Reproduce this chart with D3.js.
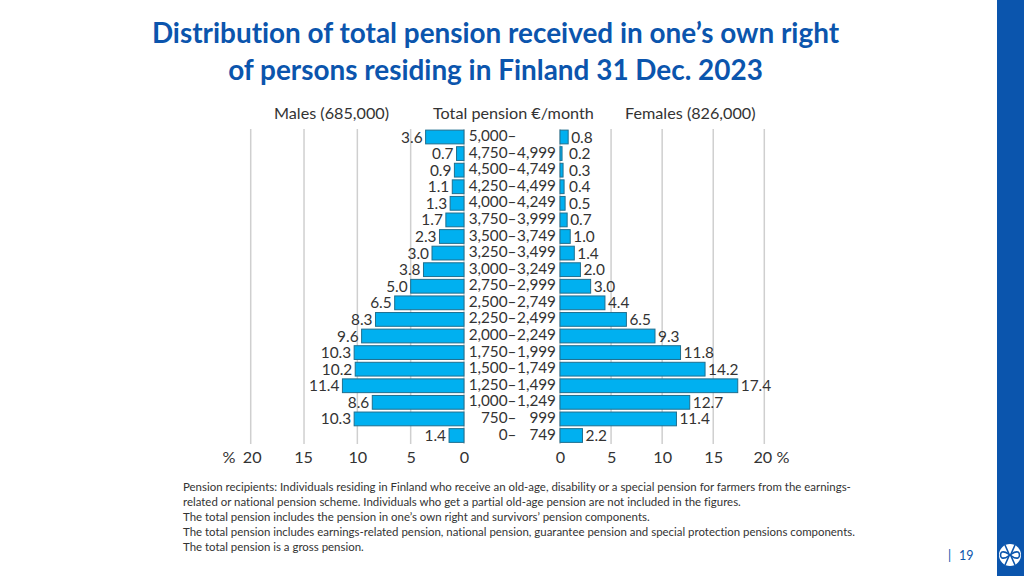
<!DOCTYPE html>
<html><head><meta charset="utf-8">
<script src="https://cdn.jsdelivr.net/npm/d3@7/dist/d3.min.js"></script>
<style>html,body{margin:0;padding:0;background:#fff}svg{display:block}text{font-family:Lato,"Open Sans",sans-serif;font-variant-ligatures:none}</style>
</head><body><svg id="c" width="1024" height="576"></svg>
<script>
const bandLow = ["5,000–","4,750–","4,500–","4,250–","4,000–","3,750–","3,500–","3,250–","3,000–","2,750–","2,500–","2,250–","2,000–","1,750–","1,500–","1,250–","1,000–","750–","0–"];
const bandHigh = ["","4,999","4,749","4,499","4,249","3,999","3,749","3,499","3,249","2,999","2,749","2,499","2,249","1,999","1,749","1,499","1,249","999","749"];
const males = [3.6,0.7,0.9,1.1,1.3,1.7,2.3,3.0,3.8,5.0,6.5,8.3,9.6,10.3,10.2,11.4,8.6,10.3,1.4];
const females = [0.8,0.2,0.3,0.4,0.5,0.7,1.0,1.4,2.0,3.0,4.4,6.5,9.3,11.8,14.2,17.4,12.7,11.4,2.2];
const ticks = [0,5,10,15,20];
const titleLines = ["Distribution of total pension received in one’s own right","of persons residing in Finland 31 Dec. 2023"];
const notes = ["Pension recipients: Individuals residing in Finland who receive an old-age, disability or a special pension for farmers from the earnings-",
"related or national pension scheme. Individuals who get a partial old-age pension are not included in the figures.",
"The total pension includes the pension in one’s own right and survivors’ pension components.",
"The total pension includes earnings-related pension, national pension, guarantee pension and special protection pensions components.",
"The total pension is a gross pension."];

const svg = d3.select("#c");
const ink = "#333", barFill = "#00b0f0", barStroke = "#1f6f8f", grid = "#cfcfcf", blue = "#0b55ad";
const xL = d3.scaleLinear().domain([0,20]).range([464,250.7]);
const xR = d3.scaleLinear().domain([0,20]).range([560,764.3]);
const y = d3.scaleBand().domain(bandLow).range([128.7,443.8]).paddingInner(0.17).paddingOuter(0.085);
const cy = d => y(d)+y.bandwidth()/2;

svg.append("rect").attr("x",997).attr("y",0).attr("width",27).attr("height",576).attr("fill",blue);

svg.selectAll(".t").data(titleLines).join("text").attr("class","t")
  .attr("x",495.5).attr("y",(d,i)=>[43,80][i]).attr("text-anchor","middle")
  .attr("font-size",27.9).attr("font-weight",700).attr("fill",blue).text(d=>d);

[xL,xR].forEach(s=>{
  svg.append("g").selectAll("line").data(ticks).join("line")
    .attr("x1",d=>s(d)).attr("x2",d=>s(d)).attr("y1",129).attr("y2",444)
    .attr("stroke",grid).attr("stroke-width",1.5);
});

const rows = bandLow.map((b,i)=>({b,lo:b,hi:bandHigh[i],m:males[i],f:females[i]}));
svg.append("g").selectAll("rect").data(rows).join("rect")
  .attr("x",d=>xL(d.m)).attr("y",d=>y(d.b)).attr("width",d=>xL(0)-xL(d.m)).attr("height",y.bandwidth())
  .attr("fill",barFill).attr("stroke",barStroke).attr("stroke-width",1);
svg.append("g").selectAll("rect").data(rows).join("rect")
  .attr("x",xR(0)).attr("y",d=>y(d.b)).attr("width",d=>xR(d.f)-xR(0)).attr("height",y.bandwidth())
  .attr("fill",barFill).attr("stroke",barStroke).attr("stroke-width",1);

const fs = 16.2, catFs = 15.3, valFs = 15.4;
const lab = (sel,size)=>sel.attr("font-size",size).attr("fill",ink).attr("dy","0.36em");
lab(svg.append("g").selectAll("text").data(rows).join("text")
  .attr("x",d=>xL(d.m)-3).attr("y",d=>cy(d.b)).attr("text-anchor","end").text(d=>d.m.toFixed(1)),valFs);
lab(svg.append("g").selectAll("text").data(rows).join("text")
  .attr("x",d=>Math.max(xR(d.f)+3,569)).attr("y",d=>cy(d.b)).attr("text-anchor","start").text(d=>d.f.toFixed(1)),valFs);
lab(svg.append("g").selectAll("text").data(rows).join("text")
  .attr("x",516.5).attr("y",d=>cy(d.b)-1.5).attr("text-anchor","end").text(d=>d.lo),catFs);
lab(svg.append("g").selectAll("text").data(rows).join("text")
  .attr("x",556).attr("y",d=>cy(d.b)-1.5).attr("text-anchor","end").text(d=>d.hi),catFs);

const axL = svg.append("g").attr("transform","translate(0,444)").call(d3.axisBottom(xL).tickValues(ticks).tickSize(0).tickPadding(7));
const axR = svg.append("g").attr("transform","translate(0,444)").call(d3.axisBottom(xR).tickValues(ticks).tickSize(0).tickPadding(7));
[axL,axR].forEach(a=>{a.select(".domain").remove();a.selectAll("text").attr("font-size",fs).attr("fill",ink).style("font-family","Lato");});
axR.selectAll("text").attr("dx",d=>d===20?-2:0);
axL.selectAll("text").attr("dx",d=>d===20?1:d===15?-1:0);
svg.append("text").attr("x",229).attr("y",463).attr("text-anchor","middle").attr("font-size",fs).attr("fill",ink).text("%");
svg.append("text").attr("x",783).attr("y",463).attr("text-anchor","middle").attr("font-size",fs).attr("fill",ink).text("%");

[["Males (685,000)",274],["Total pension €/month",433],["Females (826,000)",625]].forEach(([t,x])=>{
  svg.append("text").attr("x",x).attr("y",119).attr("font-size",fs).attr("fill",ink).text(t);
});

svg.selectAll(".n").data(notes).join("text").attr("class","n")
  .attr("x",183).attr("y",(d,i)=>491+i*15).attr("font-size",11.45).attr("fill",ink).text(d=>d);

svg.append("text").attr("x",948).attr("y",560).attr("font-size",12.5).attr("fill",blue).text("|");
svg.append("text").attr("x",959).attr("y",560).attr("font-size",12.5).attr("fill",blue).text("19");

const logo = svg.append("g").attr("transform","translate(1010,555)");
logo.append("circle").attr("r",11).attr("fill","#fff");
logo.append("path").attr("d","M-8,-3C-4,-4 -2,-1 0,0C2,1 4,4 8,3C10,2 10,-2 8,-3C4,-4 2,-1 0,0C-2,1 -4,4 -8,3C-10,2 -10,-2 -8,-3Z")
  .attr("fill","none").attr("stroke",blue).attr("stroke-width",1.6);
logo.append("path").attr("d","M-5,-10L-1,-1M5,-10L1,-1M-5,10L-1,1M5,10L1,1").attr("stroke",blue).attr("stroke-width",1.6);
</script></body></html>
